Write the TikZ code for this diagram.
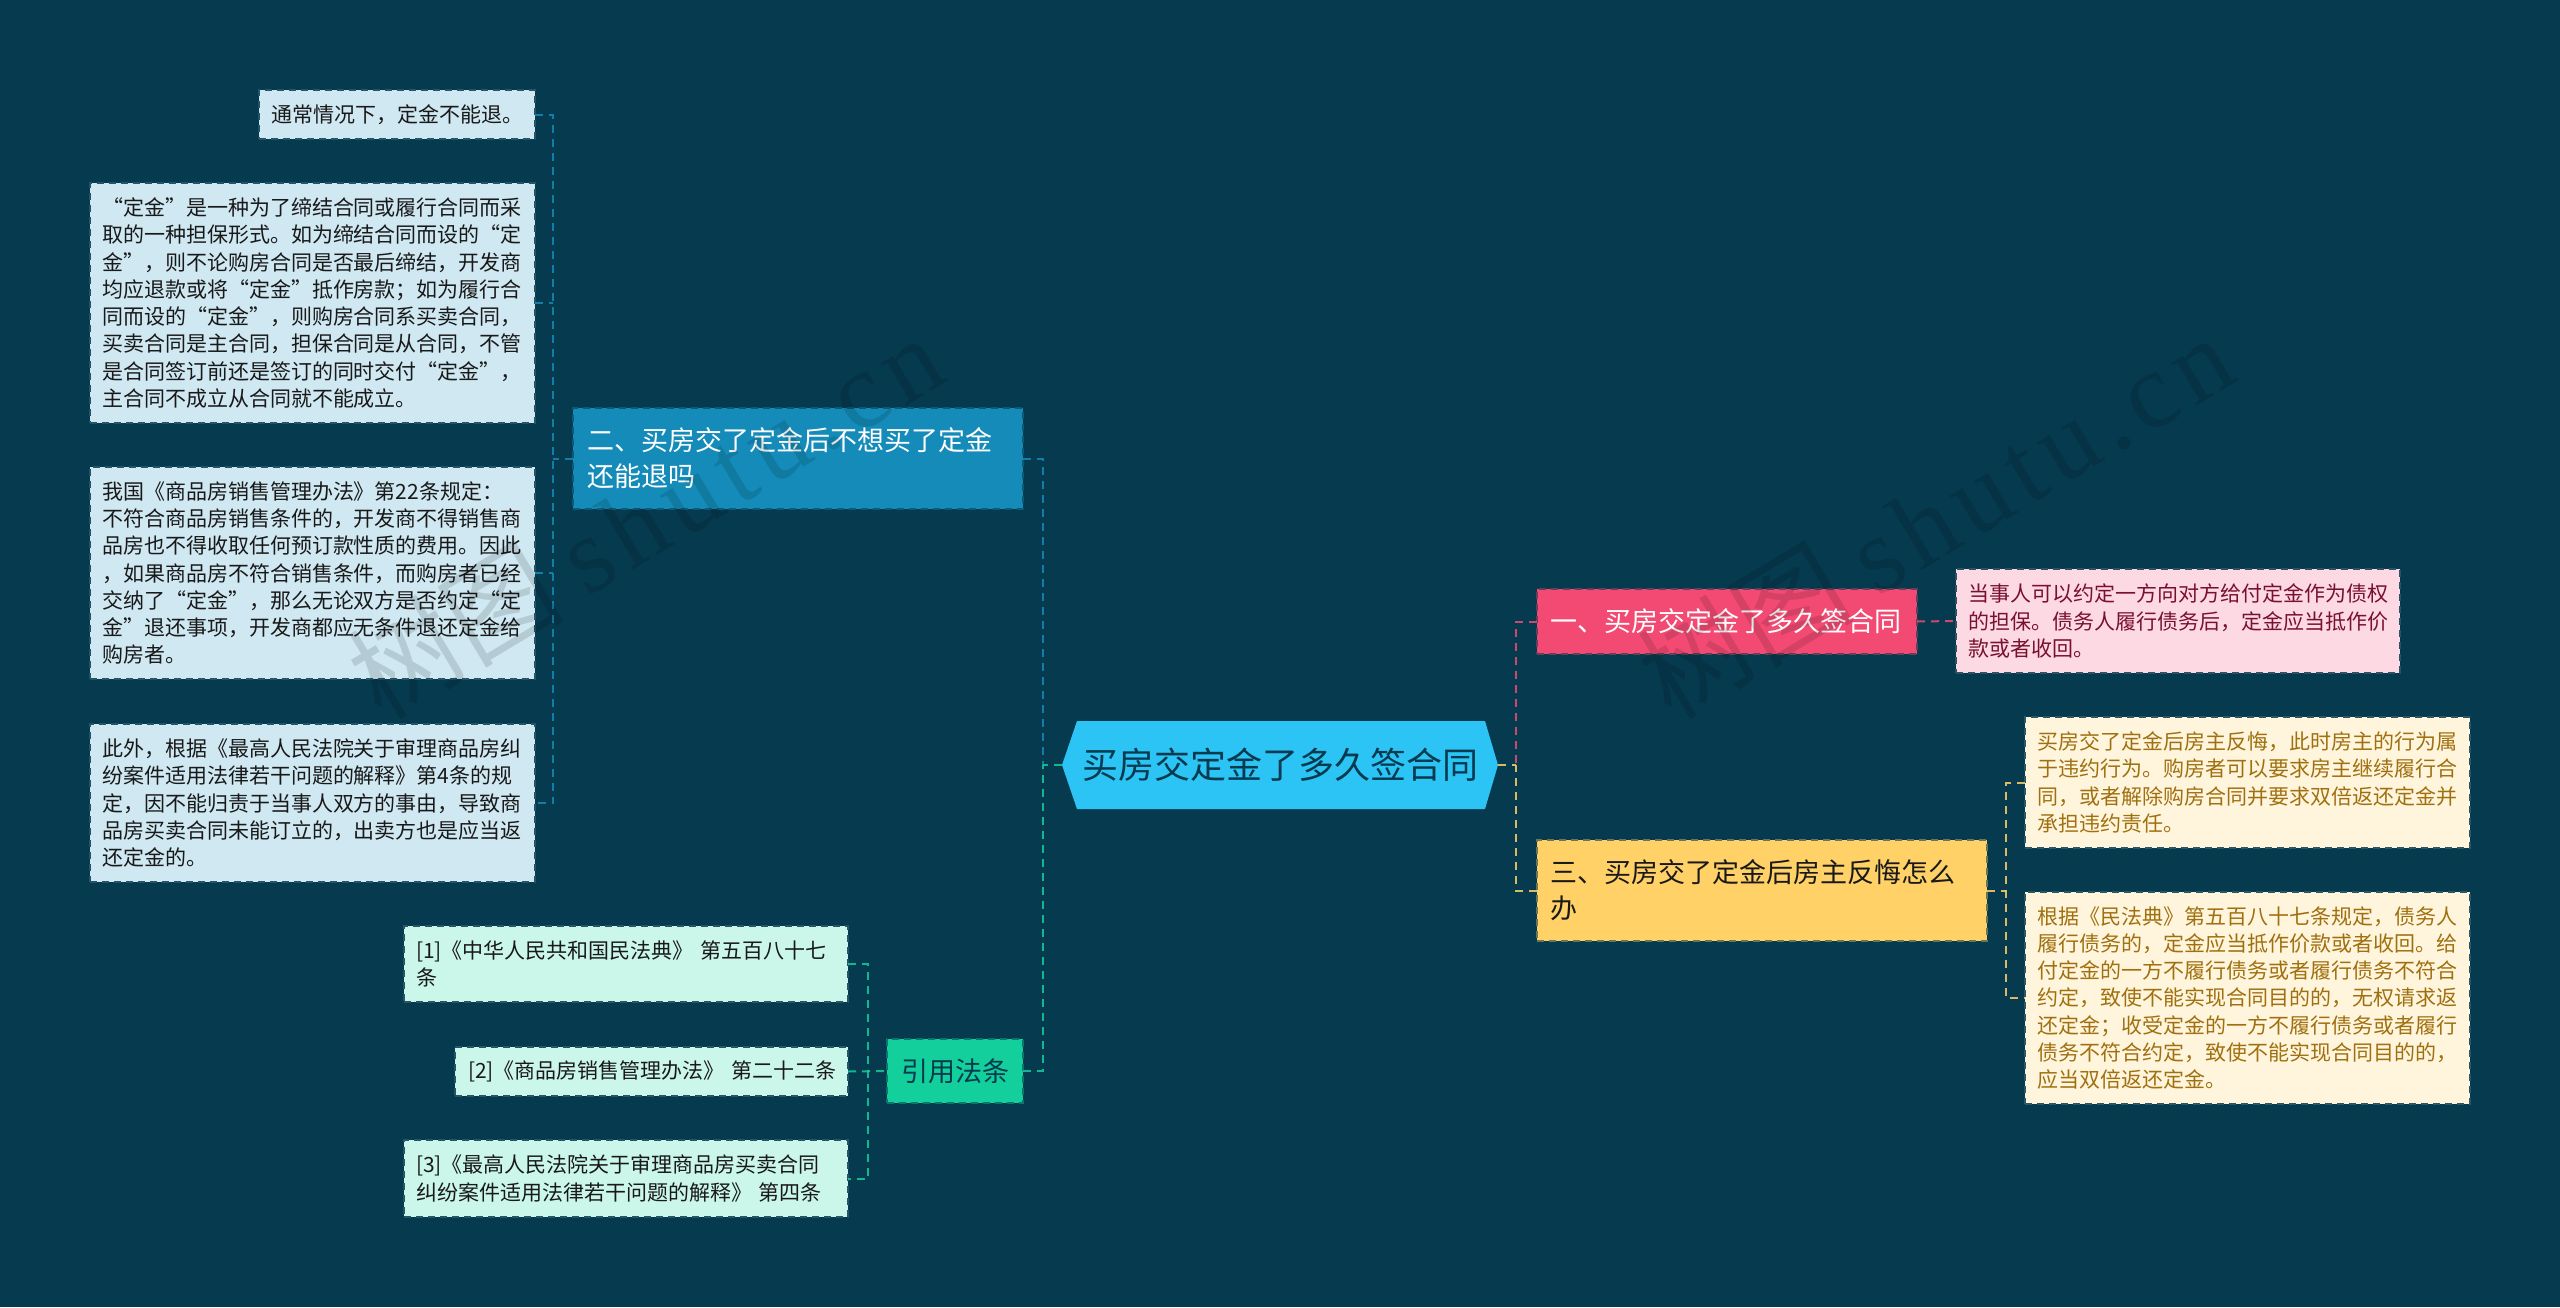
\documentclass[tikz,border=0pt]{standalone}
\usepackage{fontspec}
\setmainfont{Noto Sans CJK SC}
\newfontfamily\wmfont[LetterSpace=8]{Liberation Serif}
\definecolor{bgcol}{HTML}{063A4F}
\definecolor{maincol}{HTML}{2BC4F5}
\definecolor{bluecol}{HTML}{148BB8}
\definecolor{pinkcol}{HTML}{F24A72}
\definecolor{yellowcol}{HTML}{FFD166}
\definecolor{greencol}{HTML}{12CF9B}
\definecolor{leafblue}{HTML}{CFE8F2}
\definecolor{leafpink}{HTML}{FCD9E3}
\definecolor{leafyellow}{HTML}{FFF5DC}
\definecolor{leafgreen}{HTML}{CBF7EA}
\definecolor{pinktext}{HTML}{7A1030}
\definecolor{yellowtext}{HTML}{A07010}
\tikzset{
    sized/.style 2 args={text width=#1pt, minimum height=#2pt},
    box/.style={rectangle, dashed, dash pattern=on 7pt off 5pt, line width=1.5pt, outer sep=0pt, inner ysep=0pt, inner xsep=12pt, align=left},
    leaf/.style={box, font=\fontsize{21}{27.3}\selectfont},
    branch/.style={box, inner xsep=14pt, font=\fontsize{27}{36}\selectfont},
    link/.style={dashed, dash pattern=on 8pt off 6pt, line width=2pt, opacity=0.85},
    watermark/.style={rotate=31, opacity=0.12, text=black, inner sep=0pt, font=\fontsize{108}{108}\selectfont},
}
\begin{document}
\begin{tikzpicture}[x=1pt, y=-1pt]
    \useasboundingbox (0, 0) rectangle (2560, 1307);
    \fill [bgcol] (0, 0) rectangle (2560, 1307);
    % centre
    \fill [maincol] (1077, 721) -- (1485, 721) -- (1498, 765) -- (1485, 809) -- (1077, 809) -- (1062, 765) -- cycle;
    \node (main) at (1280, 765) [text=bgcol, minimum width=436pt, inner sep=0pt, outer sep=0pt, font=\fontsize{36}{44}\selectfont] {买房交定金了多久签合同};
    % branches
    \node (er) at (798, 458.5) [branch, sized={422}{101}, fill=bluecol, draw=bgcol!60!bluecol, text=white] {二、买房交了定金后不想买了定金\\还能退吗};
    \node (yinyong) at (955, 1071) [branch, sized={108}{64}, fill=greencol, draw=bgcol!60!greencol, text=bgcol] {引用法条};
    \node (yi) at (1727, 621.5) [branch, inner xsep=13pt, sized={354}{65}, fill=pinkcol, draw=bgcol!60!pinkcol, text=white] {一、买房交定金了多久签合同};
    \node (san) at (1762, 890.5) [branch, inner xsep=13pt, sized={424}{101}, fill=yellowcol, draw=bgcol!60!yellowcol, text=black!90] {三、买房交了定金后房主反悔怎么\\办};
    % blue leaves
    \node (tongchang) at (397, 114.5) [leaf, sized={252}{49}, fill=leafblue, draw=bgcol!85!leafblue, text=black!90] {通常情况下，定金不能退。};
    \node (dingjin) at (312.5, 303) [leaf, sized={421}{240}, fill=leafblue, draw=bgcol!85!leafblue, text=black!90] {“定金”是一种为了缔结合同或履行合同而采\\取的一种担保形式。如为缔结合同而设的“定\\金”，则不论购房合同是否最后缔结，开发商\\均应退款或将“定金”抵作房款；如为履行合\\同而设的“定金”，则购房合同系买卖合同，\\买卖合同是主合同，担保合同是从合同，不管\\是合同签订前还是签订的同时交付“定金”，\\主合同不成立从合同就不能成立。};
    \node (woguo) at (312.5, 573) [leaf, sized={421}{212}, fill=leafblue, draw=bgcol!85!leafblue, text=black!90] {我国《商品房销售管理办法》第22条规定：\\不符合商品房销售条件的，开发商不得销售商\\品房也不得收取任何预订款性质的费用。因此\\，如果商品房不符合销售条件，而购房者已经\\交纳了“定金”，那么无论双方是否约定“定\\金”退还事项，开发商都应无条件退还定金给\\购房者。};
    \node (ciwai) at (312.5, 803) [leaf, sized={421}{158}, fill=leafblue, draw=bgcol!85!leafblue, text=black!90] {此外，根据《最高人民法院关于审理商品房纠\\纷案件适用法律若干问题的解释》第4条的规\\定，因不能归责于当事人双方的事由，导致商\\品房买卖合同未能订立的，出卖方也是应当返\\还定金的。};
    % green leaves
    \node (fa1) at (626, 964) [leaf, sized={420}{76}, fill=leafgreen, draw=bgcol!85!leafgreen, text=black!90] {[1]《中华人民共和国民法典》 第五百八十七\\条};
    \node (fa2) at (651.5, 1071.5) [leaf, inner xsep=13pt, sized={367}{49}, fill=leafgreen, draw=bgcol!85!leafgreen, text=black!90] {[2]《商品房销售管理办法》~第二十二条};
    \node (fa3) at (626, 1178.5) [leaf, sized={420}{77}, fill=leafgreen, draw=bgcol!85!leafgreen, text=black!90] {[3]《最高人民法院关于审理商品房买卖合同\\纠纷案件适用法律若干问题的解释》 第四条};
    % pink and yellow leaves
    \node (dangshi) at (2178, 621) [leaf, sized={420}{104}, fill=leafpink, draw=bgcol!85!leafpink, text=pinktext] {当事人可以约定一方向对方给付定金作为债权\\的担保。债务人履行债务后，定金应当抵作价\\款或者收回。};
    \node (fanhui) at (2247.5, 782.5) [leaf, sized={421}{131}, fill=leafyellow, draw=bgcol!85!leafyellow, text=yellowtext] {买房交了定金后房主反悔，此时房主的行为属\\于违约行为。购房者可以要求房主继续履行合\\同，或者解除购房合同并要求双倍返还定金并\\承担违约责任。};
    \node (genju) at (2247.5, 998) [leaf, sized={421}{212}, fill=leafyellow, draw=bgcol!85!leafyellow, text=yellowtext] {根据《民法典》第五百八十七条规定，债务人\\履行债务的，定金应当抵作价款或者收回。给\\付定金的一方不履行债务或者履行债务不符合\\约定，致使不能实现合同目的的，无权请求返\\还定金；收受定金的一方不履行债务或者履行\\债务不符合约定，致使不能实现合同目的的，\\应当双倍返还定金。};
    % trunks
    \coordinate (lefttrunk) at (1043, 765);
    \coordinate (righttrunk) at (1516, 765);
    \coordinate (bluetop) at (553, 114.5);
    \coordinate (bluebot) at (553, 803);
    \coordinate (greentop) at (868, 964);
    \coordinate (greenbot) at (868, 1178.5);
    \coordinate (yellowtop) at (2006, 782.5);
    \coordinate (yellowbot) at (2006, 998);
    \draw [link, bluecol] (er.east) -| (lefttrunk);
    \draw [link, greencol] (yinyong.east) -| (lefttrunk);
    \draw [link, greencol] (main.west) -- (lefttrunk);
    \draw [link, pinkcol] (yi.west) -| (righttrunk);
    \draw [link, yellowcol] (san.west) -| (righttrunk);
    \draw [link, yellowcol] (main.east) -- (righttrunk);
    \draw [link, pinkcol] (yi.east) -- (dangshi.west);
    \draw [link, bluecol] (tongchang.east) -- (bluetop) -- (bluebot) -- (ciwai.east);
    \draw [link, bluecol] (dingjin.east) -- (dingjin.east -| bluetop);
    \draw [link, bluecol] (woguo.east) -- (woguo.east -| bluetop);
    \draw [link, bluecol] (er.west) -- (er.west -| bluetop);
    \draw [link, greencol] (fa1.east) -- (greentop) -- (greenbot) -- (fa3.east);
    \draw [link, greencol] (fa2.east) -- (yinyong.west);
    \draw [link, yellowcol] (fanhui.west) -- (yellowtop) -- (yellowbot) -- (genju.west);
    \draw [link, yellowcol] (san.east) -- (san.east -| yellowtop);
    % watermarks
    \node (mark1) at (645, 515) [watermark] {树图 {\wmfont shutu.cn}};
    \node (mark2) at (1935, 515) [watermark] {树图 {\wmfont shutu.cn}};
\end{tikzpicture}
\end{document}
